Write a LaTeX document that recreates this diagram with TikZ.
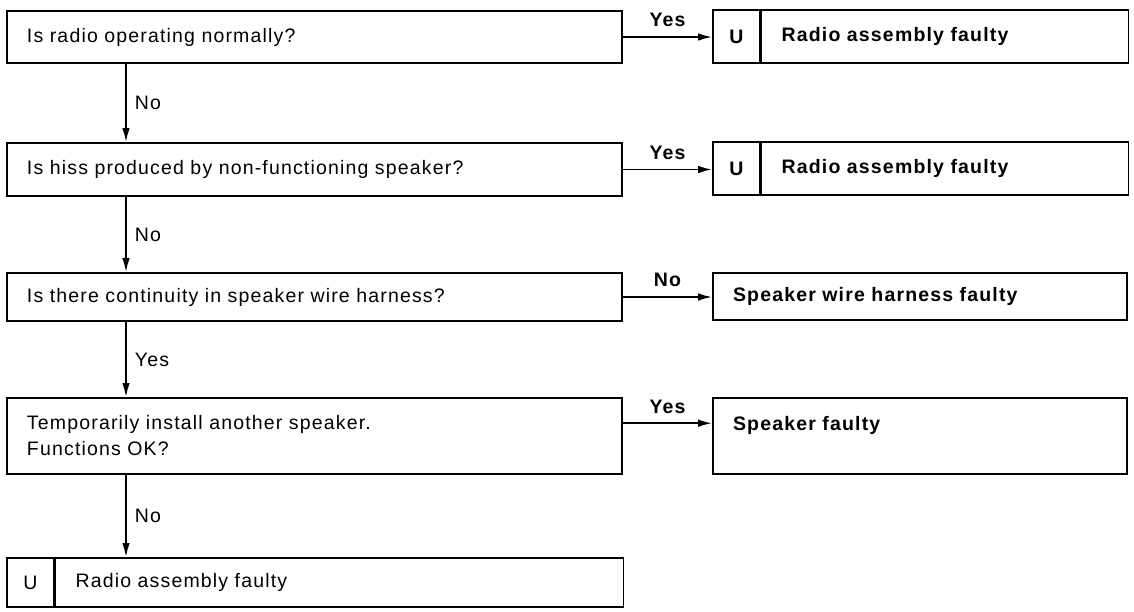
\documentclass[tikz,border=0pt]{standalone}
\usepackage{fontspec}
\setmainfont{Liberation Sans}[LetterSpace=6]
\usetikzlibrary{arrows.meta}

\newcommand{\chartfont}{\fontsize{19.5}{26}\selectfont}

\begin{document}
\begin{tikzpicture}[
x=1pt, y=1pt,
every node/.style={font=\chartfont},
box/.style={
draw,
line width=1.6pt,
align=left,
inner xsep=20pt,
inner ysep=0pt
},
query/.style={box, text width=575pt},
verdict/.style={box, text width=374pt, font=\chartfont\bfseries},
cell/.style={draw, line width=1.6pt, minimum width=47pt, inner sep=0pt},
arrow/.style={-{Latex[length=14pt,width=7.5pt]}, line width=1.9pt},
vlabel/.style={right=7pt, inner sep=1pt},
hlabel/.style={above=8pt, inner sep=1pt, font=\chartfont\bfseries}
]
\useasboundingbox (0,0) rectangle (1134,-611);

% questions
\node[query, minimum height=52pt] (q1) at (314.5,-37)
{Is radio operating normally?};
\node[query, minimum height=53pt] (q2) at (314.5,-169.5)
{Is hiss produced by non-functioning speaker?};
\node[query, minimum height=48pt] (q3) at (314.5,-297)
{Is there continuity in speaker wire harness?};
\node[query, minimum height=76pt] (q4) at (314.5,-436)
{Temporarily install another speaker.\\Functions OK?};
\node[cell, minimum height=49pt] (u5) at (30.5,-582.5) {U};
\node[box, text width=528pt, minimum height=49pt, anchor=west] (a5) at (u5.east)
{Radio assembly faulty};

% results
\node[cell, minimum height=53pt, font=\chartfont\bfseries] (u1) at (736.5,-36.5) {U};
\node[verdict, text width=327pt, minimum height=53pt, anchor=west] (r1) at (u1.east)
{Radio assembly faulty};
\node[cell, minimum height=53pt, font=\chartfont\bfseries] (u2) at (736.5,-168.5) {U};
\node[verdict, text width=327pt, minimum height=53pt, anchor=west] (r2) at (u2.east)
{Radio assembly faulty};
\node[verdict, minimum height=47pt] (r3) at (920,-296.5)
{Speaker wire harness faulty};
\node[verdict, minimum height=76pt] (r4) at (920,-436)
{Speaker faulty\\\mbox{}};

% flow
\coordinate (spine) at (126,0);
\draw[arrow] (q1.south -| spine) -- node[vlabel] {No} (q2.north -| spine);
\draw[arrow] (q2.south -| spine) -- node[vlabel] {No} (q3.north -| spine);
\draw[arrow] (q3.south -| spine) -- node[vlabel] {Yes} (q4.north -| spine);
\draw[arrow] (q4.south -| spine) -- node[vlabel] {No} (u5.north -| spine);

\draw[arrow] (q1.east) -- node[hlabel] {Yes} (q1.east -| u1.west);
\draw[arrow] (q2.east) -- node[hlabel] {Yes} (q2.east -| u2.west);
\draw[arrow] (q3.east) -- node[hlabel] {No} (q3.east -| r3.west);
\draw[arrow] ([yshift=-26pt]q4.north east) -- node[hlabel] {Yes} ([yshift=-26pt]q4.north east -| r4.west);
\end{tikzpicture}
\end{document}
